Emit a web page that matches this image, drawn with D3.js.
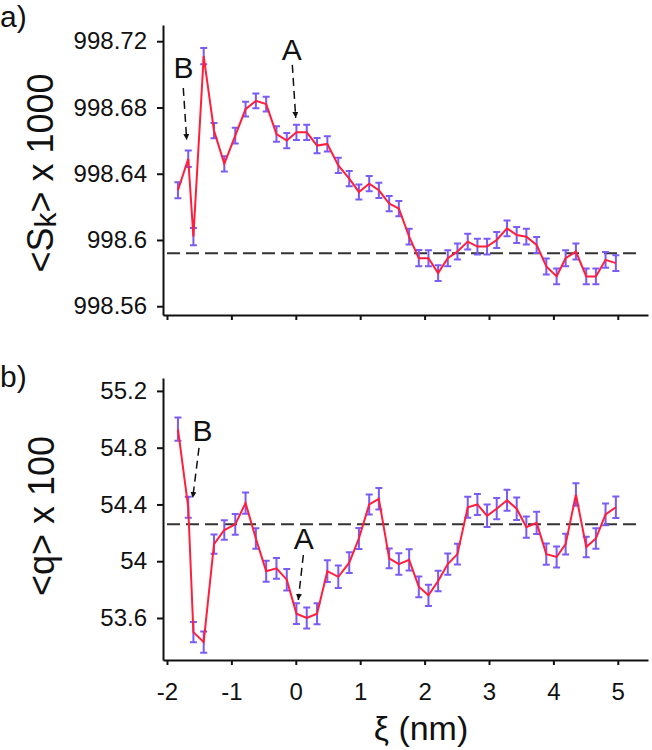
<!DOCTYPE html>
<html>
<head>
<meta charset="utf-8">
<script src="https://cdn.jsdelivr.net/npm/d3@7"></script>
<style>
  body { margin: 0; background: #fff; }
  svg { display: block; font-family: "Liberation Sans", Arial, sans-serif; }
</style>
</head>
<body>
<svg width="652" height="750"></svg>
<script>
// position along the reaction coordinate (nm)
const xi = [-1.83, -1.67, -1.59, -1.43, -1.27, -1.11, -0.94, -0.78, -0.62, -0.46,
  -0.30, -0.14, 0.01, 0.17, 0.33, 0.49, 0.66, 0.83, 0.98, 1.14,
  1.29, 1.45, 1.60, 1.76, 1.91, 2.06, 2.21, 2.36, 2.51, 2.67,
  2.82, 2.97, 3.12, 3.28, 3.43, 3.58, 3.74, 3.89, 4.05, 4.19,
  4.35, 4.51, 4.66, 4.81, 4.97]

// panel a: <Sk> x 1000
const skVals = [998.630, 998.649, 998.602, 998.711, 998.666, 998.646, 998.663, 998.679, 998.684, 998.682,
  998.664, 998.660, 998.665, 998.665, 998.657, 998.658, 998.645, 998.637, 998.629, 998.634,
  998.630, 998.622, 998.619, 998.602, 998.589, 998.589, 998.580, 998.589, 998.593, 998.599,
  998.596, 998.596, 998.600, 998.607, 998.603, 998.602, 998.597, 998.584, 998.578, 998.589,
  998.593, 998.578, 998.578, 998.588, 998.586]
const skErr = [0.0048, 0.0050, 0.0052, 0.0049, 0.0046, 0.0046, 0.0047, 0.0045, 0.0044, 0.0045,
  0.0047, 0.0046, 0.0046, 0.0046, 0.0046, 0.0046, 0.0046, 0.0046, 0.0045, 0.0046,
  0.0046, 0.0046, 0.0046, 0.0048, 0.0049, 0.0048, 0.0048, 0.0048, 0.0048, 0.0048,
  0.0048, 0.0048, 0.0048, 0.0048, 0.0048, 0.0048, 0.0048, 0.0048, 0.0048, 0.0048,
  0.0048, 0.0048, 0.0048, 0.0048, 0.0048]
const skRef = 998.592
const skTicks = [998.56, 998.6, 998.64, 998.68, 998.72]

// panel b: <q> x 100
const qVals = [54.93, 54.38, 53.50, 53.43, 54.12, 54.22, 54.26, 54.41, 54.16, 53.93,
  53.95, 53.87, 53.63, 53.60, 53.63, 53.93, 53.89, 53.99, 54.16, 54.40,
  54.44, 54.02, 53.98, 54.01, 53.82, 53.76, 53.86, 53.98, 54.05, 54.38,
  54.40, 54.32, 54.37, 54.43, 54.37, 54.24, 54.27, 54.05, 54.03, 54.12,
  54.47, 54.10, 54.16, 54.33, 54.38]
const qErr = [0.082, 0.074, 0.071, 0.075, 0.068, 0.068, 0.073, 0.075, 0.073, 0.074,
  0.073, 0.076, 0.073, 0.074, 0.074, 0.076, 0.079, 0.073, 0.074, 0.070,
  0.076, 0.070, 0.076, 0.075, 0.073, 0.075, 0.072, 0.075, 0.073, 0.074,
  0.074, 0.079, 0.075, 0.074, 0.079, 0.075, 0.078, 0.074, 0.074, 0.073,
  0.079, 0.072, 0.073, 0.076, 0.076]
const qRef = 54.26
const qTicks = [53.6, 54, 54.4, 54.8, 55.2]

const xTicks = [-2, -1, 0, 1, 2, 3, 4, 5]

const svg = d3.select('svg')
const font = '"Liberation Sans", Arial, sans-serif'

const x = d3.scaleLinear().domain([-2.062, 5.469]).range([163, 648])

svg.append('defs').append('marker')
  .attr('id', 'head')
  .attr('viewBox', '0 0 10 10')
  .attr('refX', 10).attr('refY', 5)
  .attr('markerWidth', 6).attr('markerHeight', 6)
  .attr('markerUnits', 'userSpaceOnUse')
  .attr('orient', 'auto')
  .append('path').attr('d', 'M0,0L10,5L0,10z').attr('fill', '#111')

function drawPanel (p) {
  const y = d3.scaleLinear().domain(p.domain).range([p.bottom, p.top])
  const g = svg.append('g')

  // reference level
  g.append('line')
    .attr('x1', x(-2)).attr('x2', x(5.32))
    .attr('y1', y(p.ref)).attr('y2', y(p.ref))
    .attr('stroke', '#333').attr('stroke-width', 2)
    .attr('stroke-dasharray', '13,6')

  // axes
  const xa = g.append('g')
    .attr('transform', 'translate(0,' + p.bottom + ')')
    .call(d3.axisBottom(x).tickValues(xTicks).tickSize(5).tickSizeOuter(0).tickPadding(18)
      .tickFormat(p.xLabels ? d => String(d) : ''))
  const ya = g.append('g')
    .attr('transform', 'translate(' + x.range()[0] + ',0)')
    .call(d3.axisLeft(y).tickValues(p.ticks).tickSize(6).tickSizeOuter(0).tickPadding(10)
      .tickFormat(d => String(d)))
  for (const a of [xa, ya]) {
    a.select('.domain').attr('stroke', '#111').attr('stroke-width', 2)
    a.selectAll('.tick line').attr('stroke', '#111').attr('stroke-width', 2)
    a.selectAll('.tick text').attr('font-size', 24).attr('font-family', font).attr('fill', '#111')
  }

  const pts = xi.map((d, i) => ({ x: d, v: p.vals[i], e: p.err[i] }))

  // error bars
  const eb = g.append('g').attr('stroke', '#7a5cf5').attr('stroke-width', 2)
  eb.selectAll('.eb').data(pts).enter().append('path')
    .attr('fill', 'none')
    .attr('d', d => {
      const cx = x(d.x); const y0 = y(d.v - d.e); const y1 = y(d.v + d.e)
      return 'M' + (cx - 3.5) + ',' + y0 + 'H' + (cx + 3.5) +
        'M' + cx + ',' + y0 + 'V' + y1 +
        'M' + (cx - 3.5) + ',' + y1 + 'H' + (cx + 3.5)
    })

  // mean curve
  g.append('path')
    .datum(pts)
    .attr('fill', 'none')
    .attr('stroke', '#ff1f3d')
    .attr('stroke-width', 2)
    .attr('d', d3.line().x(d => x(d.x)).y(d => y(d.v)))

  // annotations
  p.notes.forEach(n => {
    g.append('text')
      .attr('x', x(n.lx)).attr('y', y(n.ly))
      .attr('text-anchor', 'middle')
      .attr('font-size', 30).attr('font-family', font).attr('fill', '#111')
      .text(n.t)
    g.append('line')
      .attr('x1', x(n.ax0)).attr('y1', y(n.ay0))
      .attr('x2', x(n.ax1)).attr('y2', y(n.ay1))
      .attr('stroke', '#111').attr('stroke-width', 1.5)
      .attr('stroke-dasharray', '8,5')
      .attr('marker-end', 'url(#head)')
  })

  // y title
  const t = g.append('text')
    .attr('transform', 'translate(' + p.titleX + ',' + p.titleY + ') rotate(-90)')
    .attr('text-anchor', 'middle')
    .attr('font-size', 36).attr('font-family', font).attr('fill', '#111')
  p.title(t)

  // panel letter
  g.append('text')
    .attr('x', 0).attr('y', p.letterY)
    .attr('font-size', 30).attr('font-family', font).attr('fill', '#111')
    .text(p.letter)
}

drawPanel({
  top: 25,
  bottom: 315,
  domain: [998.5547, 998.7298],
  vals: skVals,
  err: skErr,
  ref: skRef,
  ticks: skTicks,
  xLabels: false,
  letter: 'a)',
  letterY: 27,
  titleX: 53,
  titleY: 173,
  title: t => {
    t.append('tspan').text('<S')
    t.append('tspan').attr('font-size', 30).attr('dy', 3).text('k')
    t.append('tspan').attr('dy', -3).text('> x 1000')
  },
  notes: [
    { t: 'B', lx: -1.744, ly: 998.6978, ax0: -1.747, ay0: 998.6918, ax1: -1.694, ay1: 998.6604 },
    { t: 'A', lx: -0.064, ly: 998.7087, ax0: -0.054, ay0: 998.7057, ax1: -0.001, ay1: 998.6737 }
  ]
})

drawPanel({
  top: 378,
  bottom: 660,
  domain: [53.304, 55.291],
  vals: qVals,
  err: qErr,
  ref: qRef,
  ticks: qTicks,
  xLabels: true,
  letter: 'b)',
  letterY: 387,
  titleX: 54,
  titleY: 516,
  title: t => t.text('<q> x 100'),
  notes: [
    { t: 'B', lx: -1.449, ly: 54.850, ax0: -1.503, ay0: 54.799, ax1: -1.601, ay1: 54.446 },
    { t: 'A', lx: 0.123, ly: 54.086, ax0: 0.117, ay0: 54.044, ax1: 0.039, ay1: 53.727 }
  ]
})

svg.append('text')
  .attr('x', 421).attr('y', 740)
  .attr('text-anchor', 'middle')
  .attr('font-size', 34).attr('font-family', font).attr('fill', '#111')
  .text('ξ (nm)')
</script>
</body>
</html>
